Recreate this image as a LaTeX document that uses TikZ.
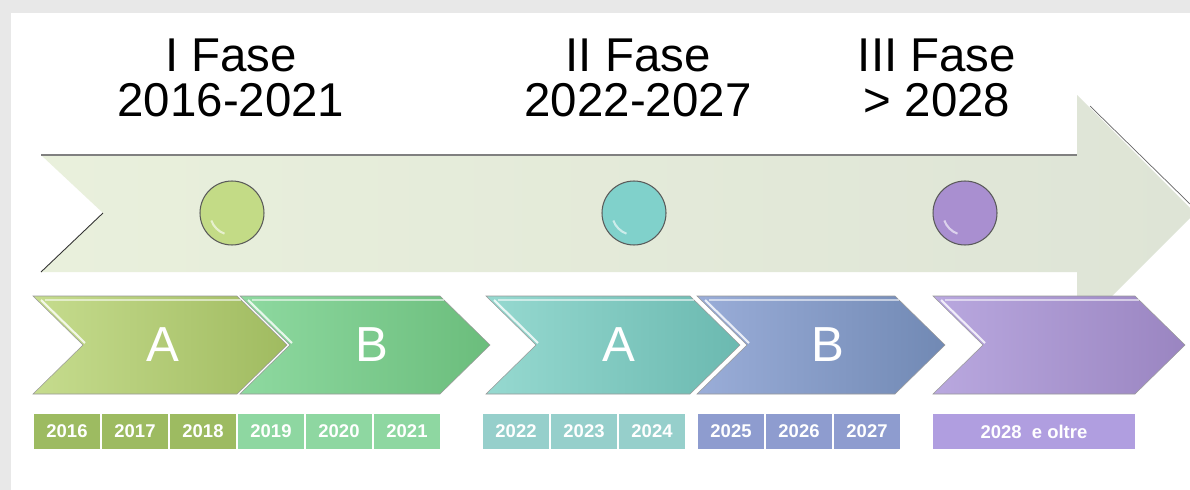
\documentclass[tikz,border=0pt]{standalone}
\usepackage{fontspec}
\setmainfont{Liberation Sans}
\usepackage{tikz}

\definecolor{pagegray}{HTML}{E8E8E8}
\definecolor{shaftL}{HTML}{E9F0DC}
\definecolor{shaftR}{HTML}{DEE4D6}
\definecolor{olivL}{HTML}{C6DC8E}
\definecolor{olivR}{HTML}{A0BB60}
\definecolor{mintL}{HTML}{8ED9A0}
\definecolor{mintR}{HTML}{6BBD7C}
\definecolor{tealL}{HTML}{96D9D0}
\definecolor{tealR}{HTML}{6BB9B0}
\definecolor{blueL}{HTML}{9AADD8}
\definecolor{blueR}{HTML}{7189B4}
\definecolor{lilaL}{HTML}{B9A8DF}
\definecolor{lilaR}{HTML}{9A85C1}
\definecolor{yrOliv}{HTML}{9DBB61}
\definecolor{yrMint}{HTML}{8ED7A1}
\definecolor{yrTeal}{HTML}{96CFCB}
\definecolor{yrBlue}{HTML}{8E9CCF}
\definecolor{yrLila}{HTML}{B09EE0}
\definecolor{dotOliv}{HTML}{C3DB86}
\definecolor{dotTeal}{HTML}{80D1CB}
\definecolor{dotLila}{HTML}{A98FD0}

\begin{document}
\begin{tikzpicture}[x=0.02cm,y=-0.02cm,
    phase/.style={align=center,font=\fontsize{27}{26}\selectfont},
    letter/.style={text=white,font=\fontsize{28}{28}\selectfont},
    yearbox/.style={draw=white,line width=0.6pt,text=white,
      font=\fontsize{10.5}{12}\selectfont\bfseries,
      minimum width=1.36cm,minimum height=0.74cm,inner sep=0pt},
    dot/.style={circle,draw=gray!70!black,line width=0.6pt,minimum size=1.28cm}]

  \useasboundingbox (0,0) rectangle (1190,490);
  \fill[pagegray] (0,0) rectangle (1190,490);
  \fill[white] (11,13) rectangle (1190,490);

  % big arrow
  \shade[left color=shaftL,right color=shaftR]
    (41,155) -- (1077,155) -- (1077,95) -- (1195,213) -- (1077,331)
    -- (1077,272) -- (41,272) -- (103,213) -- cycle;
  \draw[gray,line width=1pt] (41,155) -- (1077,155);
  \draw[black!80,line width=0.5pt] (103,213) -- (41,272);
  \draw[black!60,line width=0.4pt] (1090,106) -- (1190,204);

  % phase titles
  \node[phase] (fase1) at (231,78) {I Fase\\2016-2021};
  \node[phase] (fase2) at (638,78) {II Fase\\2022-2027};
  \node[phase] (fase3) at (937,78) {III Fase\\> 2028};

  % dots
  \node[dot,fill=dotOliv] (dot1) at (232,213) {};
  \node[dot,fill=dotTeal] (dot2) at (634,213) {};
  \node[dot,fill=dotLila] (dot3) at (965,213) {};
  \foreach \d in {dot1,dot2,dot3}
    \draw[white,opacity=0.6,line width=1.2pt] (\d) ++(200:0.44cm) arc (200:250:0.44cm);

  % chevrons
  \foreach \xa/\w/\cl/\cr in {33/204/olivL/olivR, 240/200/mintL/mintR,
      486/204/tealL/tealR, 697/198/blueL/blueR, 933/202/lilaL/lilaR} {
    \shade[left color=\cl,right color=\cr,draw=black!40,line width=0.3pt]
      (\xa,296) -- ++(\w,0) -- ++(50,49) -- ++(-50,49) -- ++(-\w,0)
      -- ++(50,-49) -- cycle;
    \draw[white,opacity=0.55,line width=1.5pt] (\xa+12,300) -- ++(\w-8,0);
    \draw[white,opacity=0.8,line width=1.2pt] (\xa+8,300) -- ++(44,43);
  }
  \node[letter] (a1) at (163,345) {A};
  \node[letter] (b1) at (372,345) {B};
  \node[letter] (a2) at (619,345) {A};
  \node[letter] (b2) at (828,345) {B};

  % years
  \foreach \x/\yr/\c in {67/2016/yrOliv, 135/2017/yrOliv, 203/2018/yrOliv,
      271/2019/yrMint, 339/2020/yrMint, 407/2021/yrMint,
      516/2022/yrTeal, 584/2023/yrTeal, 652/2024/yrTeal,
      731/2025/yrBlue, 799/2026/yrBlue, 867/2027/yrBlue}
    \node[yearbox,fill=\c] (y\yr) at (\x,431.5) {\yr};
  \node[yearbox,fill=yrLila,minimum width=4.06cm] (y2028) at (1034,431.5) {2028~ e oltre};

\end{tikzpicture}
\end{document}
